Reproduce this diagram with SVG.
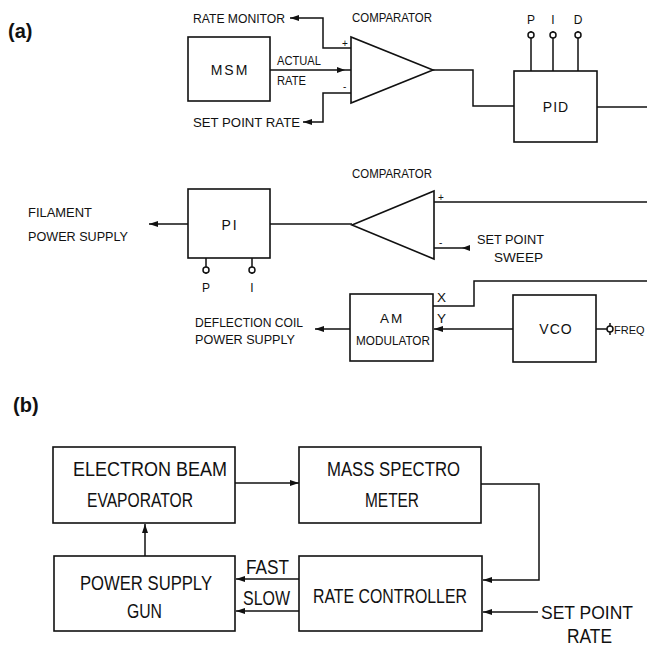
<svg xmlns="http://www.w3.org/2000/svg" width="647" height="646" viewBox="0 0 647 646">
<defs>
<style>
.ln{fill:none;stroke:#111;stroke-width:1.5}
.bx{fill:#fff;stroke:#111;stroke-width:1.6}
.t{font-family:"Liberation Sans",Arial,sans-serif;fill:#111;font-size:13.5px}
.tb{font-family:"Liberation Sans",Arial,sans-serif;fill:#111;font-size:20.5px}
.lab{font-family:"Liberation Sans",Arial,sans-serif;fill:#111;font-size:20px;font-weight:bold}
.s{font-size:10px}
.k{fill:#fff;stroke:#111;stroke-width:1.5}
</style>
<marker id="ar" markerUnits="userSpaceOnUse" markerWidth="9" markerHeight="6" refX="9" refY="3" orient="auto">
<path d="M0,0 L9,3 L0,6 z" fill="#111"/>
</marker>
</defs>
<rect width="647" height="646" fill="#fff"/>

<text class="lab" x="8" y="38">(a)</text>
<text class="lab" x="13" y="412">(b)</text>

<g id="connectors">
<path class="ln" d="M351 48 H323 V18 H290" marker-end="url(#ar)"/>
<path class="ln" d="M270 70 H351" />
<path d="M337 67 L345 70 L337 73 z" fill="#111"/>
<path class="ln" d="M351 93 H323 V122 H303" marker-end="url(#ar)"/>
<path class="ln" d="M433 70 H473 V106 H514"/>
<path class="ln" d="M597 107 H647"/>
<path class="ln" d="M434 202 H647"/>
<path class="ln" d="M434 248 H470"/>
<path d="M470 245 L462 248 L470 251 z" fill="#111"/>
<path class="ln" d="M352 224 H270"/>
<path class="ln" d="M188 224 H149" marker-end="url(#ar)"/>
<path class="ln" d="M433 306 H474 V281 H647"/>
<path class="ln" d="M513 329 H434" marker-end="url(#ar)"/>
<path class="ln" d="M350 329 H315" marker-end="url(#ar)"/>
<path class="ln" d="M596 329 H607"/>
<path class="ln" d="M235 483 H299" marker-end="url(#ar)"/>
<path class="ln" d="M145 556 V524" marker-end="url(#ar)"/>
<path class="ln" d="M299 579 H236" marker-end="url(#ar)"/>
<path class="ln" d="M299 611 H236" marker-end="url(#ar)"/>
<path class="ln" d="M481 484 H539 V580 H483" marker-end="url(#ar)"/>
<path class="ln" d="M538 612 H483" marker-end="url(#ar)"/>
</g>

<g id="labels-a">
<text class="t" x="193" y="23" textLength="92" lengthAdjust="spacingAndGlyphs">RATE MONITOR</text>
<text class="t" x="277" y="65" textLength="44" lengthAdjust="spacingAndGlyphs">ACTUAL</text>
<text class="t" x="277" y="85" textLength="29" lengthAdjust="spacingAndGlyphs">RATE</text>
<text class="t" x="193" y="127" textLength="107" lengthAdjust="spacingAndGlyphs">SET POINT RATE</text>
<text class="t s" x="342" y="47">+</text>
<text class="t s" x="343" y="90">-</text>
<text class="t" x="28" y="217" textLength="64" lengthAdjust="spacingAndGlyphs">FILAMENT</text>
<text class="t" x="28" y="241" textLength="100" lengthAdjust="spacingAndGlyphs">POWER SUPPLY</text>
<text class="t s" x="438" y="201">+</text>
<text class="t s" x="439" y="246">-</text>
<text class="t" x="477" y="244" textLength="67" lengthAdjust="spacingAndGlyphs">SET POINT</text>
<text class="t" x="494" y="262" textLength="49" lengthAdjust="spacingAndGlyphs">SWEEP</text>
<text class="t" x="437" y="302">X</text>
<text class="t" x="437" y="323">Y</text>
<text class="t" x="195" y="327" textLength="108" lengthAdjust="spacingAndGlyphs">DEFLECTION COIL</text>
<text class="t" x="195" y="344" textLength="100" lengthAdjust="spacingAndGlyphs">POWER SUPPLY</text>
<text class="t" x="614" y="334" style="font-size:11px">FREQ</text>
</g>

<g id="msm">
<rect class="bx" x="188" y="37" width="82" height="64"/>
<text class="t" x="230" y="75" text-anchor="middle" style="font-size:14px" letter-spacing="2">MSM</text>
</g>

<g id="comparator1">
<path class="bx" d="M351 37 L351 103 L433 70 Z"/>
<text class="t" x="352" y="22" textLength="80" lengthAdjust="spacingAndGlyphs">COMPARATOR</text>
</g>

<g id="pid">
<rect class="bx" x="514" y="71" width="83" height="71"/>
<text class="t" x="556" y="112" text-anchor="middle" style="font-size:14px" letter-spacing="1">PID</text>
<path class="ln" d="M531 71 V31 M553 71 V31 M578 71 V31"/>
<circle class="k" cx="531" cy="35" r="3"/>
<circle class="k" cx="553" cy="35" r="3"/>
<circle class="k" cx="578" cy="35" r="3"/>
<text class="t" x="531" y="24" text-anchor="middle" style="font-size:12px">P</text>
<text class="t" x="553" y="24" text-anchor="middle" style="font-size:12px">I</text>
<text class="t" x="578" y="24" text-anchor="middle" style="font-size:12px">D</text>
</g>

<g id="comparator2">
<path class="bx" d="M434 191 L434 259 L352 225 Z"/>
<text class="t" x="352" y="178" textLength="80" lengthAdjust="spacingAndGlyphs">COMPARATOR</text>
</g>

<g id="pi">
<rect class="bx" x="188" y="189" width="82" height="69"/>
<text class="t" x="230" y="230" text-anchor="middle" style="font-size:14px" letter-spacing="2">PI</text>
<path class="ln" d="M206 258 V274 M252 258 V274"/>
<circle class="k" cx="206" cy="270" r="3"/>
<circle class="k" cx="252" cy="270" r="3"/>
<text class="t" x="206" y="292" text-anchor="middle" style="font-size:12px">P</text>
<text class="t" x="252" y="292" text-anchor="middle" style="font-size:12px">I</text>
</g>

<g id="am-modulator">
<rect class="bx" x="350" y="294" width="83" height="67"/>
<text class="t" x="392" y="323" text-anchor="middle" letter-spacing="2">AM</text>
<text class="t" x="356" y="345" textLength="74" lengthAdjust="spacingAndGlyphs">MODULATOR</text>
</g>

<g id="vco">
<rect class="bx" x="513" y="295" width="83" height="67"/>
<text class="t" x="556" y="334" text-anchor="middle" style="font-size:14px" letter-spacing="1">VCO</text>
<path class="ln" d="M610 323 V335"/>
<circle class="k" cx="610" cy="329" r="3"/>
</g>

<g id="electron-beam-evaporator">
<rect class="bx" x="53" y="447" width="182" height="76"/>
<text class="tb" x="73" y="476" textLength="154" lengthAdjust="spacingAndGlyphs">ELECTRON BEAM</text>
<text class="tb" x="87" y="507" textLength="106" lengthAdjust="spacingAndGlyphs">EVAPORATOR</text>
</g>

<g id="mass-spectrometer">
<rect class="bx" x="299" y="447" width="182" height="76"/>
<text class="tb" x="327" y="476" textLength="133" lengthAdjust="spacingAndGlyphs">MASS SPECTRO</text>
<text class="tb" x="365" y="507" textLength="54" lengthAdjust="spacingAndGlyphs">METER</text>
</g>

<g id="power-supply-gun">
<rect class="bx" x="54" y="556" width="181" height="75"/>
<text class="tb" x="80" y="590" textLength="132" lengthAdjust="spacingAndGlyphs">POWER SUPPLY</text>
<text class="tb" x="127" y="618" textLength="35" lengthAdjust="spacingAndGlyphs">GUN</text>
</g>

<g id="rate-controller">
<rect class="bx" x="299" y="556" width="183" height="75"/>
<text class="tb" x="313" y="603" textLength="154" lengthAdjust="spacingAndGlyphs">RATE CONTROLLER</text>
</g>

<g id="labels-b">
<text class="tb" x="246" y="574" textLength="43" lengthAdjust="spacingAndGlyphs">FAST</text>
<text class="tb" x="243" y="605" textLength="47" lengthAdjust="spacingAndGlyphs">SLOW</text>
<text class="tb" x="541" y="619" style="font-size:17.5px">SET POINT</text>
<text class="tb" x="567" y="643" textLength="45" lengthAdjust="spacingAndGlyphs">RATE</text>
</g>
</svg>
